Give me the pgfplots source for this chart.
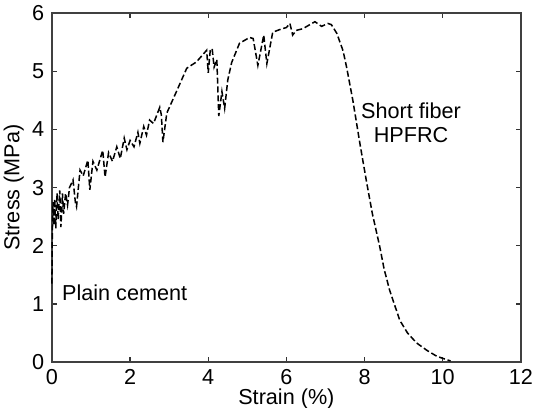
\documentclass[border=0pt]{standalone}
\usepackage{fontspec}
\setmainfont{Liberation Sans}
\usepackage{pgfplots}
\pgfplotsset{compat=1.18}
\begin{document}
\begin{tikzpicture}
\begin{axis}[
  at={(0,0)}, anchor=south west,
  scale only axis,
  width=216.8pt, height=161.4pt,
  xmin=0, xmax=12, ymin=0, ymax=6,
  xtick={0,2,...,12}, ytick={0,1,...,6},
  tick align=inside,
  major tick length=2.4pt,
  tick style={black!80, line width=0.6pt},
  axis line style={black!75, line width=0.7pt},
  /pgf/number format/assume math mode=true,
  ticklabel style={font=\fontsize{10}{12}\selectfont},
  label style={font=\fontsize{10}{12}\selectfont},
  xlabel={Strain (\%)},
  ylabel={Stress (MPa)},
  xlabel style={yshift=5pt},
  ylabel style={yshift=-3pt},
  clip=false,
]
\addplot[black, line width=0.7pt, dash pattern=on 2.8pt off 1.3pt] coordinates {
(0,1.35) (0.01,2.2) (0.03,2.75) (0.05,2.35) (0.07,2.8) (0.1,2.3) (0.13,2.9)
(0.16,2.45) (0.2,2.95) (0.23,2.32) (0.27,2.9) (0.3,2.55) (0.35,2.9) (0.4,2.7)
(0.45,3.0) (0.54,3.13) (0.6,2.75) (0.63,2.67) (0.72,3.3) (0.8,3.2) (0.92,3.47)
(0.97,2.96) (1.05,3.45) (1.15,3.3) (1.3,3.64) (1.36,3.18) (1.45,3.6) (1.55,3.45)
(1.66,3.7) (1.75,3.5) (1.85,3.85) (1.92,3.65) (2.0,3.81) (2.1,3.7) (2.2,3.95)
(2.25,3.76) (2.35,4.05) (2.42,3.9) (2.5,4.16) (2.6,4.1) (2.76,4.38) (2.8,4.25)
(2.84,3.78) (2.94,4.28) (3.2,4.67) (3.45,5.05) (3.7,5.16) (3.96,5.36) (4.0,4.97)
(4.05,5.35) (4.1,5.39) (4.15,5.07) (4.22,5.2) (4.27,4.23) (4.35,4.65) (4.42,4.36)
(4.5,4.85) (4.6,5.15) (4.8,5.48) (5.06,5.58) (5.15,5.56) (5.27,5.1) (5.42,5.62)
(5.5,5.13) (5.65,5.67) (5.85,5.72) (6.0,5.75) (6.09,5.82) (6.16,5.62) (6.25,5.7)
(6.42,5.73) (6.6,5.8) (6.73,5.85) (6.9,5.77) (7.06,5.82) (7.15,5.8) (7.29,5.65)
(7.45,5.35) (7.54,5.07) (7.7,4.5) (7.88,3.76) (8.05,3.1) (8.2,2.55) (8.39,1.98)
(8.5,1.6) (8.64,1.24) (8.9,0.72) (9.1,0.5) (9.33,0.33) (9.6,0.2) (9.85,0.1)
(10.2,0.02)
};
\node[anchor=west, inner sep=0pt, font=\fontsize{10}{12}\selectfont] at (axis cs:0.25,1.19) {Plain cement};
\node[align=center, inner sep=0pt, font=\fontsize{10}{11.3}\selectfont] at (axis cs:9.19,4.11) {Short fiber\\HPFRC};
\end{axis}
\pgfresetboundingbox
\path[use as bounding box] (-24pt,-21.2pt) rectangle (222.4pt,167.4pt);
\end{tikzpicture}
\end{document}
